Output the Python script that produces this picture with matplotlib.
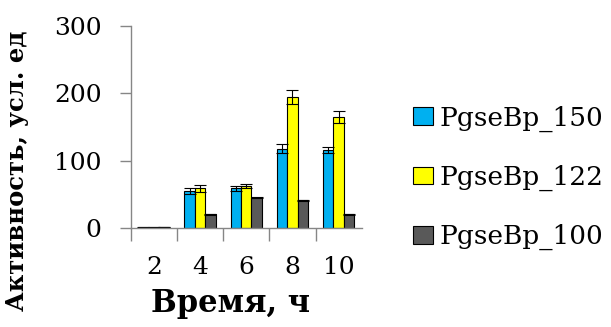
import numpy as np
import matplotlib.pyplot as plt
from matplotlib.patches import Patch

hours = ["2", "4", "6", "8", "10"]
pgse_150 = [1, 55, 59, 118, 116]
pgse_150_err = [0.5, 4, 4, 7, 5]
pgse_122 = [1, 59, 63, 195, 165]
pgse_122_err = [0.5, 5, 3, 10, 9]
pgse_100 = [1, 20, 45, 41, 20]
pgse_100_err = [0.3, 1, 1, 1, 1]
series_names = ["PgseBp_150", "PgseBp_122", "PgseBp_100"]

plt.rcParams["font.family"] = ["DejaVu Serif"]

fig = plt.figure(figsize=(6.11, 3.27), dpi=100)
ax = fig.add_axes([0.214, 0.303, 0.378, 0.617])

x = np.arange(len(hours))
w = 0.225
colors = ["#00B0F0", "#FFFF00", "#595959"]
series = [(pgse_150, pgse_150_err), (pgse_122, pgse_122_err), (pgse_100, pgse_100_err)]
for i, (vals, errs) in enumerate(series):
    ax.bar(x + (i - 1) * w, vals, w, color=colors[i], edgecolor="black", linewidth=0.8,
           yerr=errs, capsize=4.5, error_kw=dict(ecolor="black", elinewidth=0.8, capthick=0.8),
           zorder=2)

ax.set_xlim(-0.5, len(hours) - 0.5)
ax.set_ylim(0, 300)
ax.set_yticks([0, 100, 200, 300])
ax.set_xticks(x)
ax.set_xticklabels(hours)
ax.set_xticks(np.arange(len(hours)) - 0.5, minor=True)
ax.tick_params(axis="x", which="major", length=0, labelsize=18, pad=20)
ax.tick_params(axis="x", which="minor", length=9, width=1, color="#868686", direction="out")
ax.tick_params(axis="y", length=8, width=1, color="#868686", direction="out", labelsize=18, pad=13)

for s in ["top", "right"]:
    ax.spines[s].set_visible(False)
for s in ["left", "bottom"]:
    ax.spines[s].set_color("#868686")
    ax.spines[s].set_linewidth(1)

ax.set_xlabel("Время, ч", fontsize=22, fontweight="bold")
ax.xaxis.set_label_coords(0.43, -0.30)
ax.set_ylabel("Активность, усл. ед", fontsize=17.5, fontweight="bold")
ax.yaxis.set_label_coords(-0.44, 0.285)

handles = [Patch(facecolor=c, edgecolor="black", linewidth=0.8) for c in colors]
fig.legend(handles, series_names, loc="center left", bbox_to_anchor=(0.659, 0.456),
           frameon=False, fontsize=19, handlelength=0.76, handleheight=0.65,
           handletextpad=0.23, labelspacing=1.25, borderaxespad=0)

fig.savefig("out.png", dpi=100)
